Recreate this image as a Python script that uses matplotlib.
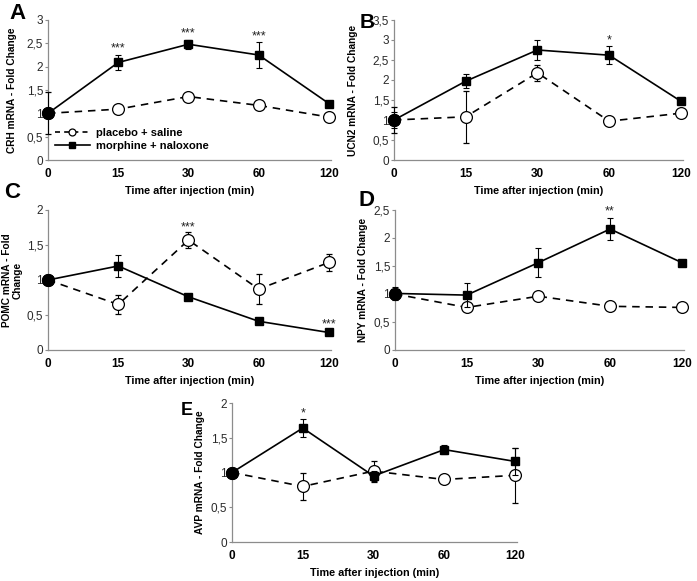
import matplotlib
matplotlib.use("Agg")
import matplotlib.pyplot as plt
from matplotlib.lines import Line2D
import numpy as np

plt.rcParams['font.family'] = ['Liberation Sans', 'DejaVu Sans']

time_labels = ["0", "15", "30", "60", "120"]

# Panel A - CRH
crh_morph = [1.0, 2.09, 2.48, 2.25, 1.21]
crh_morph_err = [0.0, 0.17, 0.10, 0.27, 0.0]
crh_plac = [1.0, 1.09, 1.36, 1.17, 0.92]
crh_plac_err = [0.45, 0.08, 0.0, 0.0, 0.0]
crh_stars = ["", "***", "***", "***", ""]

# Panel B - UCN2
ucn2_morph = [1.0, 1.97, 2.75, 2.62, 1.47]
ucn2_morph_err = [0.2, 0.17, 0.26, 0.22, 0.0]
ucn2_plac = [1.0, 1.08, 2.18, 0.97, 1.17]
ucn2_plac_err = [0.33, 0.65, 0.20, 0.0, 0.0]
ucn2_stars = ["", "", "", "*", ""]

# Panel C - POMC
pomc_morph = [1.0, 1.20, 0.76, 0.41, 0.25]
pomc_morph_err = [0.0, 0.16, 0.0, 0.0, 0.0]
pomc_plac = [1.0, 0.65, 1.57, 0.87, 1.25]
pomc_plac_err = [0.0, 0.14, 0.11, 0.22, 0.12]
pomc_stars_morph = ["", "", "", "", "***"]
pomc_stars_plac = ["", "", "***", "", ""]

# Panel D - NPY
npy_morph = [1.01, 0.98, 1.56, 2.16, 1.56]
npy_morph_err = [0.12, 0.22, 0.26, 0.20, 0.0]
npy_plac = [1.0, 0.76, 0.96, 0.78, 0.76]
npy_plac_err = [0.0, 0.0, 0.0, 0.0, 0.0]
npy_stars = ["", "", "", "**", ""]

# Panel E - AVP
avp_morph = [1.0, 1.64, 0.95, 1.33, 1.16]
avp_morph_err = [0.0, 0.13, 0.07, 0.06, 0.19]
avp_plac = [1.0, 0.80, 1.02, 0.90, 0.96]
avp_plac_err = [0.0, 0.19, 0.15, 0.0, 0.40]
avp_stars = ["", "*", "", "", ""]

fig = plt.figure(figsize=(6.97, 5.81), dpi=100)

def make_ax(rect, ymax, ystep, ylabel, labx):
    ax = fig.add_axes(rect)
    x = np.arange(len(time_labels))
    ax.set_xlim(0, 4.03)
    ax.set_ylim(0, ymax)
    for s in ['top', 'right']:
        ax.spines[s].set_visible(False)
    for s in ['left', 'bottom']:
        ax.spines[s].set_color('#8c8c8c')
        ax.spines[s].set_linewidth(0.9)
    ticks = np.arange(0, ymax + 1e-9, ystep)
    ax.set_yticks(ticks)
    ax.set_yticklabels([("%g" % t).replace('.', ',') for t in ticks], fontsize=8.5, color='#2a2a2a')
    ax.set_xticks(x)
    ax.set_xticklabels(time_labels, fontsize=8.5, fontweight='bold')
    ax.tick_params(axis='y', length=2, color='#8c8c8c', width=0.8, pad=1.5)
    ax.tick_params(axis='x', length=0, pad=6)
    ax.set_xlabel("Time after injection (min)", fontsize=7.8, fontweight='bold', labelpad=4)
    ax.set_ylabel(ylabel, fontsize=7.3, fontweight='bold')
    ax.yaxis.set_label_coords(labx, 0.5)
    return ax

def draw(ax, morph, morph_err, plac, plac_err):
    x = np.arange(len(time_labels))
    ax.errorbar(x, plac, yerr=plac_err, color='black', lw=1.2, ls=(0, (4.5, 3.5)),
                marker='o', ms=8.5, mfc='white', mec='black', mew=0.9,
                elinewidth=0.8, capsize=2.5, capthick=0.8, clip_on=False, zorder=3)
    ax.errorbar(x, morph, yerr=morph_err, color='black', lw=1.2, ls='-',
                marker='s', ms=5.5, mfc='black', mec='black',
                elinewidth=0.8, capsize=2.5, capthick=0.8, clip_on=False, zorder=4)
    ax.plot(x[:1], plac[:1], marker='o', ms=8.5, mfc='black', mec='black', ls='none',
            clip_on=False, zorder=5)

def stars(ax, vals, errs, labels, off):
    for i, (v, e, s) in enumerate(zip(vals, errs, labels)):
        if s:
            ax.text(i, v + e + off, s, ha='center', va='bottom', fontsize=9, color='#222222')

# A
axA = make_ax([0.0689, 0.7246, 0.406, 0.241], 3, 0.5, "CRH mRNA - Fold Change", -0.11)
draw(axA, crh_morph, crh_morph_err, crh_plac, crh_plac_err)
stars(axA, crh_morph, crh_morph_err, crh_stars, 0.0)
h1 = Line2D([], [], color='black', lw=1.2, ls=(0, (3, 2.5)), marker='o', ms=5, mfc='white', mec='black', mew=0.9)
h2 = Line2D([], [], color='black', lw=1.2, ls='-', marker='s', ms=5, mfc='black')
axA.legend([h1, h2], ["placebo + saline", "morphine + naloxone"], loc='lower left',
           bbox_to_anchor=(0.0, 0.02), frameon=False, handlelength=3.2,
           prop={'size': 8, 'weight': 'bold'}, labelspacing=0.2, handletextpad=0.5,
           borderaxespad=0.2)

# B
axB = make_ax([0.5653, 0.7246, 0.4146, 0.241], 3.5, 0.5, "UCN2 mRNA - Fold Change", -0.125)
draw(axB, ucn2_morph, ucn2_morph_err, ucn2_plac, ucn2_plac_err)
stars(axB, ucn2_morph, ucn2_morph_err, ucn2_stars, 0.0)

# C
axC = make_ax([0.0689, 0.3976, 0.406, 0.241], 2, 0.5, "POMC mRNA - Fold\nChange", -0.088)
draw(axC, pomc_morph, pomc_morph_err, pomc_plac, pomc_plac_err)
stars(axC, pomc_morph, pomc_morph_err, pomc_stars_morph, 0.03)
stars(axC, pomc_plac, pomc_plac_err, pomc_stars_plac, -0.01)

# D
axD = make_ax([0.5667, 0.3976, 0.4146, 0.241], 2.5, 0.5, "NPY mRNA - Fold Change", -0.093)
draw(axD, npy_morph, npy_morph_err, npy_plac, npy_plac_err)
stars(axD, npy_morph, npy_morph_err, npy_stars, 0.0)

# E
axE = make_ax([0.3329, 0.0671, 0.409, 0.2392], 2, 0.5, "AVP mRNA - Fold Change", -0.095)
draw(axE, avp_morph, avp_morph_err, avp_plac, avp_plac_err)
stars(axE, avp_morph, avp_morph_err, avp_stars, 0.0)

letters = [("A", 0.013, 0.995, 16), ("B", 0.5155, 0.978, 15), ("C", 0.006, 0.687, 16),
           ("D", 0.515, 0.673, 16), ("E", 0.259, 0.308, 13)]
for lab, fx, fy, fs in letters:
    fig.text(fx, fy, lab, fontsize=fs, fontweight='bold', ha='left', va='top')

fig.savefig("out.png", dpi=100)
